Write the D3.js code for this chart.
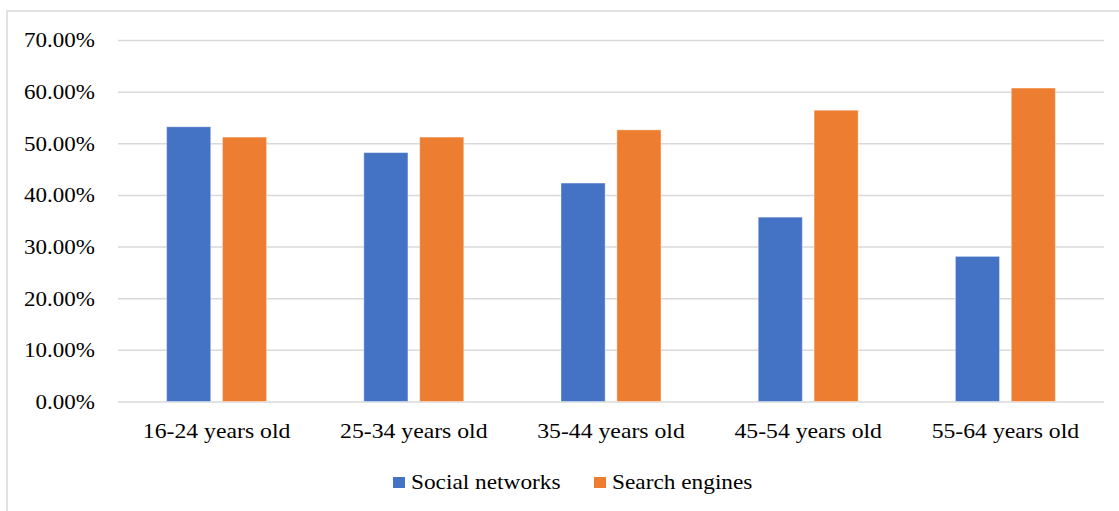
<!DOCTYPE html>
<html>
<head>
<meta charset="utf-8">
<script src="https://cdn.jsdelivr.net/npm/d3@7"></script>
<style>
  body { margin: 0; background: #fff; }
  svg { display: block; font-family: "Liberation Serif", "Times New Roman", serif; }
</style>
</head>
<body>
<svg width="1119" height="511"></svg>
<script>
// data
var ageGroups = ["16-24 years old", "25-34 years old", "35-44 years old", "45-54 years old", "55-64 years old"];
var seriesNames = ["Social networks", "Search engines"];
var socialNetworks = [0.532, 0.482, 0.423, 0.357, 0.281];
var searchEngines = [0.512, 0.512, 0.526, 0.564, 0.607];
var yTicks = [0, 0.1, 0.2, 0.3, 0.4, 0.5, 0.6, 0.7];
var colors = ["#4472c4", "#ed7d31"];

var rows = ageGroups.map(function (g, i) {
  return { group: g, values: [socialNetworks[i], searchEngines[i]] };
});

var svg = d3.select("svg");
// plot area edges (note: "top" is taken by window.top)
var plotLeft = 118, plotRight = 1104, plotTop = 40, plotBottom = 401.5;

// chart area border
svg.append("rect")
  .attr("x", 7).attr("y", 11)
  .attr("width", 1130).attr("height", 520)
  .attr("fill", "none")
  .attr("stroke", "#d9d9d9")
  .attr("stroke-width", 1.5);

var x0 = d3.scaleBand().domain(ageGroups).range([plotLeft, plotRight])
  .paddingInner(0.493).paddingOuter(0.2465);
var x1 = d3.scaleBand().domain(seriesNames).range([0, x0.bandwidth()]).paddingInner(0.21);
var y = d3.scaleLinear().domain([0, 0.7]).range([plotBottom, plotTop]);

// y axis + gridlines
var sx = 1.15;
var yAxis = svg.append("g")
  .attr("transform", "translate(" + plotLeft + ",0)")
  .call(d3.axisLeft(y).tickValues(yTicks).tickSize(-(plotRight - plotLeft)).tickFormat(d3.format(".2%")));
yAxis.select(".domain").remove();
yAxis.selectAll(".tick line").attr("stroke", "#d9d9d9").attr("stroke-width", 1.5);
yAxis.selectAll(".tick text")
  .attr("x", -23 / sx)
  .attr("dy", "0.34em")
  .attr("transform", "scale(" + sx + ",1)")
  .style("font-family", "Liberation Serif")
  .style("font-size", "20px")
  .attr("fill", "#000");

// bars
var groups = svg.append("g").selectAll("g")
  .data(rows)
  .enter().append("g")
  .attr("transform", function (d) { return "translate(" + x0(d.group) + ",0)"; });

groups.selectAll("rect")
  .data(function (d) { return d.values.map(function (v, i) { return { name: seriesNames[i], value: v, i: i }; }); })
  .enter().append("rect")
  .attr("x", function (d) { return x1(d.name); })
  .attr("y", function (d) { return y(d.value); })
  .attr("width", x1.bandwidth())
  .attr("height", function (d) { return plotBottom - y(d.value); })
  .attr("fill", function (d) { return colors[d.i]; })
  .attr("stroke", "#fff")
  .attr("stroke-opacity", 0.4)
  .attr("stroke-width", 1);

// category labels
var cx = 1.13;
svg.append("g").selectAll("text")
  .data(ageGroups)
  .enter().append("text")
  .attr("transform", function (d) { return "translate(" + (x0(d) + x0.bandwidth() / 2) + ",438) scale(" + cx + ",1)"; })
  .attr("text-anchor", "middle")
  .style("font-size", "21px")
  .text(function (d) { return d; });

// legend
var legendX = [393, 594];
var lg = svg.append("g").selectAll("g")
  .data(seriesNames)
  .enter().append("g")
  .attr("transform", function (d, i) { return "translate(" + legendX[i] + ",0)"; });
lg.append("rect")
  .attr("x", 0).attr("y", 477)
  .attr("width", 12).attr("height", 11)
  .attr("fill", function (d, i) { return colors[i]; });
lg.append("text")
  .attr("transform", "translate(18,489) scale(1.06,1)")
  .style("font-size", "22px")
  .text(function (d) { return d; });
</script>
</body>
</html>
